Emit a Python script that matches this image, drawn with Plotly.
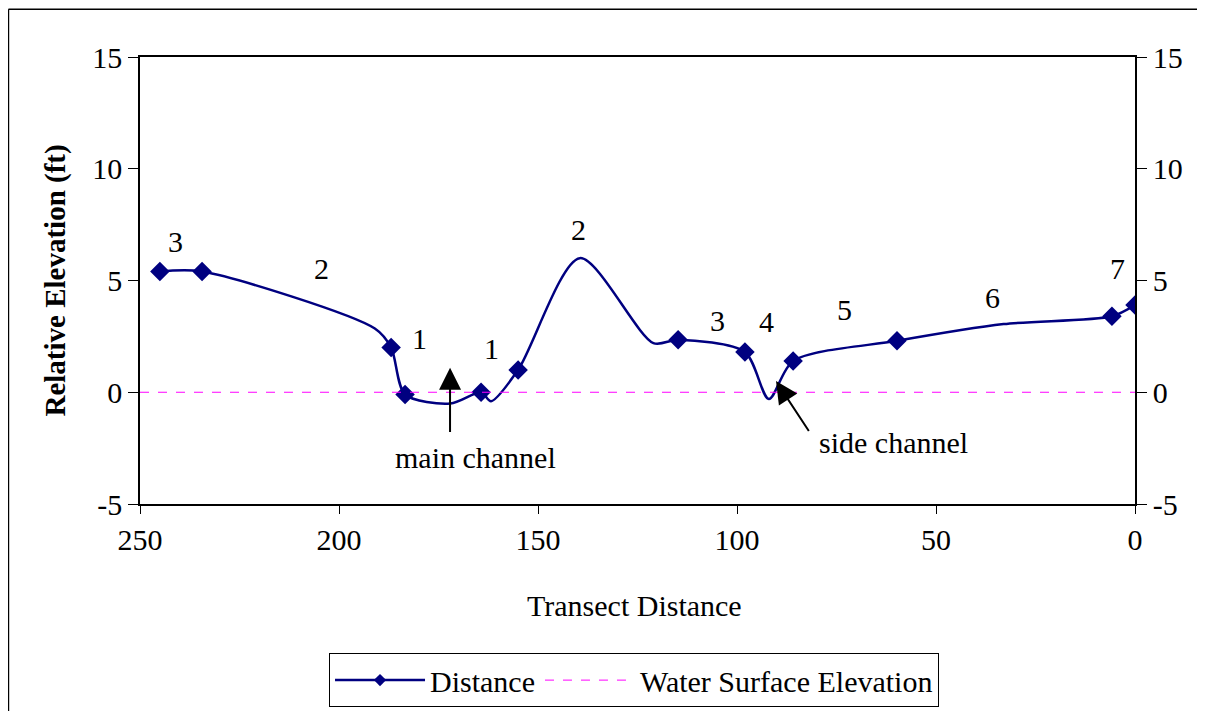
import plotly.graph_objects as go

# transect profile (points with show=0 are unmarked shape points of the smoothed line)
distance = [245, 234.4, 191, 186.9, 183.4, 172, 164.3, 161.8, 155, 139.5, 121, 114.8, 98, 92, 85.9, 59.8, 33, 5.8, 0]
elevation = [5.4, 5.4, 2.85, 2.0, -0.1, -0.5, 0.0, -0.4, 1.0, 6.0, 2.2, 2.35, 1.8, -0.3, 1.4, 2.3, 3.05, 3.4, 3.9]
show = [1, 1, 0, 1, 1, 0, 1, 0, 1, 0, 0, 1, 1, 0, 1, 1, 0, 1, 1]

water_x = [250, 0]
water_y = [0, 0]

# segment labels
lab_x = [241.2, 204.3, 179.9, 161.8, 139.9, 105, 92.7, 72.9, 35.9, 4.5]
lab_y = [6.73, 5.52, 2.4, 1.96, 7.3, 3.2, 3.16, 3.7, 4.23, 5.52]
lab_t = ["3", "2", "1", "1", "2", "3", "4", "5", "6", "7"]

y_ticks = [-5, 0, 5, 10, 15]
y_text = ["-5", "0", "5", "10", "15"]
x_ticks = [250, 200, 150, 100, 50, 0]

FONT = "Liberation Serif, Times New Roman, serif"
NAVY = "#000080"
FS = 30

fig = go.Figure()
fig.add_trace(go.Scatter(
    x=distance, y=elevation, mode="lines+markers", name="Distance",
    line=dict(color=NAVY, width=2.5, shape="spline", smoothing=0.8),
    marker=dict(symbol="diamond", color=NAVY, opacity=1,
                size=[15 if s else 0 for s in show], line=dict(width=0)),
))
fig.add_trace(go.Scatter(
    x=water_x, y=water_y, mode="lines", name="Water Surface Elevation",
    line=dict(color="#ff00ff", width=1, dash="dash"),
))
# dummy trace so the right axis is drawn
fig.add_trace(go.Scatter(x=[0], y=[0], yaxis="y2", mode="markers",
                         marker=dict(opacity=0), showlegend=False, hoverinfo="skip"))

for x, y, t in zip(lab_x, lab_y, lab_t):
    fig.add_annotation(x=x, y=y, text=t, showarrow=False, font=dict(size=FS, color="black"))

fig.add_annotation(x=172.1, y=1.1, ax=172.1, ay=-1.85, axref="x", ayref="y",
                   xref="x", yref="y", text="", showarrow=True,
                   arrowhead=2, arrowsize=2.2, arrowwidth=2, arrowcolor="black")
fig.add_annotation(x=165.8, y=-2.9, text="main channel", showarrow=False,
                   font=dict(size=FS, color="black"))
fig.add_annotation(x=90.2, y=0.5, ax=81.7, ay=-1.8, axref="x", ayref="y",
                   xref="x", yref="y", text="", showarrow=True,
                   arrowhead=2, arrowsize=2.2, arrowwidth=2, arrowcolor="black")
fig.add_annotation(x=60.8, y=-2.27, text="side channel", showarrow=False,
                   font=dict(size=FS, color="black"))

# axis titles
fig.add_annotation(xref="paper", yref="paper", x=0.4965, y=-0.227, xanchor="center",
                   yanchor="middle", text="Transect Distance",
                   showarrow=False, font=dict(size=FS, color="black"))
fig.add_annotation(xref="paper", yref="paper", x=-0.0854, y=0.5, xanchor="center",
                   yanchor="middle", text="<b>Relative Elevation (ft)</b>",
                   textangle=-90, showarrow=False, font=dict(size=29, color="black"))

# outer chart border: left and top edges
fig.add_shape(type="line", xref="paper", yref="paper", x0=-0.1322, x1=-0.1322,
              y0=-0.6, y1=1.1069, line=dict(color="black", width=1.5))
fig.add_shape(type="line", xref="paper", yref="paper", x0=-0.1322, x1=1.2,
              y0=1.1069, y1=1.1069, line=dict(color="black", width=1.5))

axis_common = dict(showline=True, linecolor="black", linewidth=1.5, ticks="outside",
                   tickcolor="black", showgrid=False, zeroline=False, automargin=False)

# page body adds an 8px offset, margins compensate for it
fig.update_layout(
    width=1205, height=711,
    margin=dict(l=132, r=78, t=49, b=213),
    paper_bgcolor="white", plot_bgcolor="white",
    font=dict(family=FONT, size=FS, color="black"),
    showlegend=True,
    legend=dict(orientation="h", x=0.4965, xanchor="center", y=-0.394, yanchor="middle",
                bordercolor="black", borderwidth=1, font=dict(size=FS),
                itemwidth=90, tracegroupgap=0),
    xaxis=dict(range=[250, 0], tickvals=x_ticks, mirror=True, ticklen=8, **axis_common),
    yaxis=dict(range=[-5, 15], tickvals=y_ticks, ticktext=y_text, ticklen=10, **axis_common),
    yaxis2=dict(range=[-5, 15], tickvals=y_ticks, ticktext=y_text, ticklen=10,
                overlaying="y", side="right", **axis_common),
)

fig.write_html("out.html")
